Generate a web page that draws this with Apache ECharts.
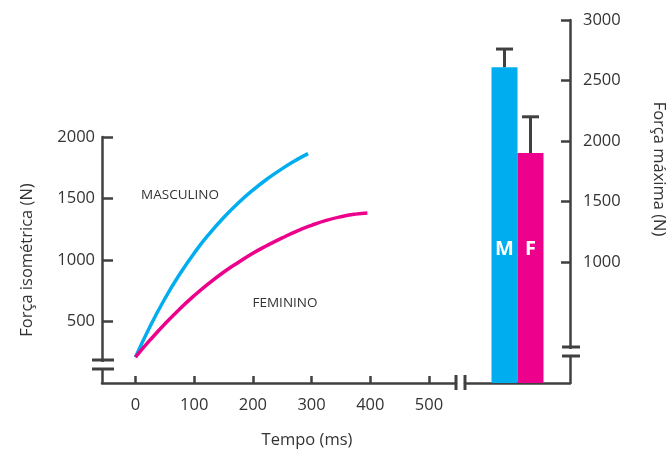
<!DOCTYPE html>
<html>
<head>
<meta charset="utf-8">
<script src="https://cdn.jsdelivr.net/npm/echarts@6/dist/echarts.min.js"></script>
<style>
  html, body { margin: 0; padding: 0; background: #fff; }
  #chart { width: 668px; height: 450px; }
</style>
</head>
<body>
<div id="chart"></div>
<script>
// curva masculino (ms, N)
const tempoM = [0, 25, 50, 75, 100, 125, 150, 175, 200, 225, 250, 275, 294];
const forcaM = [210, 462, 685, 882, 1056, 1209, 1344, 1463, 1568, 1661, 1743, 1816, 1865];
// curva feminino (ms, N)
const tempoF = [0, 25, 50, 75, 100, 125, 150, 175, 200, 225, 250, 275, 300, 325, 350, 375, 395];
const forcaF = [210, 350, 480, 600, 710, 810, 900, 980, 1055, 1120, 1180, 1235, 1282, 1322, 1352, 1373, 1383];

// barras força máxima
const barNames = ["M", "F"];
const barValues = [2610, 1900];
const barErrTop = [2760, 2200];

const xTicks = [0, 100, 200, 300, 400, 500];
const yTicksLeft = [500, 1000, 1500, 2000];
const yTicksRight = [1000, 1500, 2000, 2500, 3000];

const AXIS = "#404040";
const TXT = "#333";
const FONT = "Open Sans";
const BLUE = "#00AEEF";
const PINK = "#EC008C";

const chart = echarts.init(document.getElementById("chart"));

const pairs = (xs, ys) => xs.map((x, i) => [x, ys[i]]);
const plain = (v) => String(v);

const brk = (x1, y1, x2, y2) => ({
  type: "line",
  shape: { x1, y1, x2, y2 },
  style: { stroke: AXIS, lineWidth: 3 },
  z: 100,
});
const gap = (x, y, w, h) => ({
  type: "rect",
  shape: { x, y, width: w, height: h },
  style: { fill: "#fff" },
  z: 99,
});
const txt = (x, y, text, size, rot) => ({
  type: "text",
  x, y,
  rotation: rot || 0,
  style: {
    text, fill: TXT, fontSize: size, fontFamily: FONT,
    textAlign: "center", textVerticalAlign: "middle",
  },
  z: 100,
});

chart.setOption({
  animation: false,
  grid: [
    { left: 102, right: 212, top: 137, bottom: 67 },
    { left: 465, right: 98, top: 20, bottom: 67 },
  ],
  xAxis: [
    {
      gridIndex: 0,
      type: "value",
      min: -57,
      max: 546,
      splitLine: { show: false },
      axisLine: { show: true, onZero: false, lineStyle: { color: AXIS, width: 2.5 } },
      axisTick: { show: true, inside: true, length: 7, customValues: xTicks, lineStyle: { color: AXIS, width: 2.5 } },
      axisLabel: { customValues: xTicks, formatter: plain, margin: 14, color: TXT, fontSize: 16.5, fontFamily: FONT },
    },
    {
      gridIndex: 1,
      type: "category",
      data: ["max"],
      axisLine: { show: true, lineStyle: { color: AXIS, width: 2.5 } },
      axisTick: { show: false },
      axisLabel: { show: false },
    },
  ],
  yAxis: [
    {
      gridIndex: 0,
      type: "value",
      min: 0,
      max: 2000,
      splitLine: { show: false },
      axisLine: { show: true, onZero: false, lineStyle: { color: AXIS, width: 2.5 } },
      axisTick: { show: true, inside: true, length: 11, customValues: yTicksLeft, lineStyle: { color: AXIS, width: 2.5 } },
      axisLabel: { customValues: yTicksLeft, formatter: plain, margin: 7, color: TXT, fontSize: 16.5, fontFamily: FONT },
    },
    {
      gridIndex: 1,
      type: "value",
      position: "right",
      min: 0,
      max: 3000,
      splitLine: { show: false },
      axisLine: { show: true, onZero: false, lineStyle: { color: AXIS, width: 2.5 } },
      axisTick: { show: true, inside: true, length: 9, customValues: yTicksRight, lineStyle: { color: AXIS, width: 2.5 } },
      axisLabel: { customValues: yTicksRight, formatter: plain, margin: 13, color: TXT, fontSize: 16.5, fontFamily: FONT },
    },
  ],
  series: [
    {
      name: "MASCULINO",
      type: "line",
      xAxisIndex: 0, yAxisIndex: 0,
      smooth: true,
      showSymbol: false,
      lineStyle: { color: BLUE, width: 3.5 },
      data: pairs(tempoM, forcaM),
    },
    {
      name: "FEMININO",
      type: "line",
      xAxisIndex: 0, yAxisIndex: 0,
      smooth: true,
      showSymbol: false,
      lineStyle: { color: PINK, width: 3.5 },
      data: pairs(tempoF, forcaF),
    },
    ...barNames.map((n, i) => ({
      name: n,
      type: "bar",
      xAxisIndex: 1, yAxisIndex: 1,
      barWidth: 26,
      barGap: "0%",
      itemStyle: { color: i === 0 ? BLUE : PINK },
      label: {
        show: true,
        position: "insideBottom",
        distance: 124,
        formatter: "{a}",
        color: "#fff",
        fontSize: 20,
        fontWeight: "bold",
        fontFamily: FONT,
      },
      data: [barValues[i]],
    })),
    {
      type: "custom",
      xAxisIndex: 1, yAxisIndex: 1,
      z: 5,
      encode: { x: 0, y: [1, 2] },
      data: barValues.map((v, i) => [0, v, barErrTop[i]]),
      renderItem(params, api) {
        const base = api.coord([api.value(0), api.value(1)]);
        const top = api.coord([api.value(0), api.value(2)]);
        const x = base[0] + (params.dataIndex === 0 ? -13 : 13);
        const st = { stroke: AXIS, lineWidth: 3 };
        return {
          type: "group",
          children: [
            { type: "line", shape: { x1: x, y1: base[1], x2: x, y2: top[1] }, style: st },
            { type: "line", shape: { x1: x - 8.5, y1: top[1], x2: x + 8.5, y2: top[1] }, style: st },
          ],
        };
      },
    },
  ],
  graphic: [
    // quebra eixo y esquerdo
    gap(99, 362, 7, 6),
    brk(92, 360, 114, 360),
    brk(92, 369, 114, 369),
    // quebra eixo x
    brk(456, 375, 456, 390),
    brk(465, 375, 465, 390),
    // quebra eixo y direito
    gap(567, 349, 7, 6),
    brk(562, 347, 580, 347),
    brk(562, 356, 580, 356),
    // títulos
    txt(307, 440, "Tempo (ms)", 16.5),
    txt(27, 260, "Força isométrica (N)", 16.5, Math.PI / 2),
    txt(659, 169, "Força máxima (N)", 16.5, -Math.PI / 2),
    txt(180, 195, "MASCULINO", 13.5),
    txt(285, 303, "FEMININO", 13.5),
  ],
});
</script>
</body>
</html>
